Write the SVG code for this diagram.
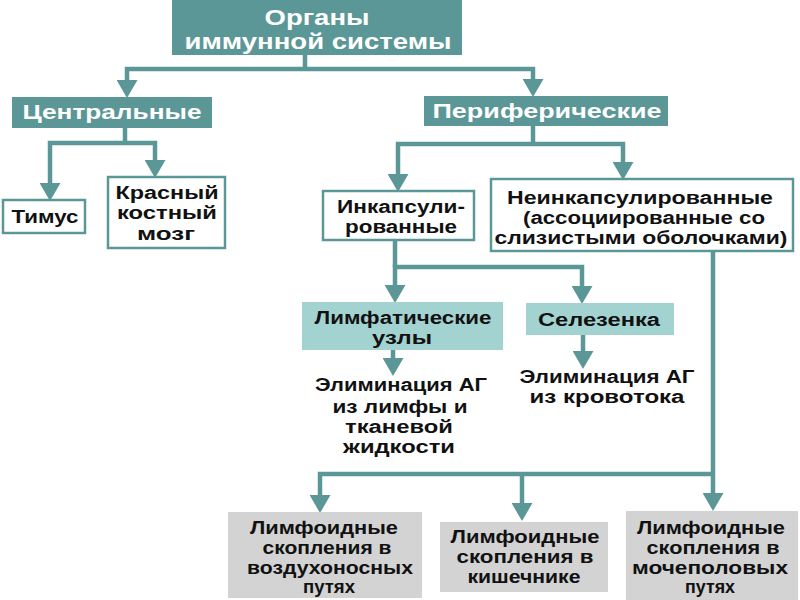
<svg xmlns="http://www.w3.org/2000/svg" width="800" height="600" viewBox="0 0 800 600">
<defs>
<marker id="ah" viewBox="0 0 18 21" refX="10" refY="10.5" markerWidth="18" markerHeight="21" markerUnits="userSpaceOnUse" orient="auto-start-reverse">
<path d="M0,0 L18,10.5 L0,21 z" fill="#5b9797"/>
</marker>
<style>
.dark{fill:#5b9797}
.white{fill:#ffffff;stroke:#5b9797;stroke-width:2.5}
.light{fill:#a3d3d1}
.gray{fill:#d3d3d3}
.conn{fill:none;stroke:#5b9797;stroke-width:4.5;stroke-linejoin:miter}
text{font-family:"Liberation Sans",Arial,sans-serif;font-weight:bold;text-anchor:middle}
.wt{fill:#ffffff;font-size:20px}
.bt{fill:#111111;font-size:18px}
</style>
</defs>
<rect width="800" height="600" fill="#ffffff"/>
<g id="connectors">
<path class="conn" d="M305,55 V69"/>
<path class="conn" d="M127,90 V69 H533 V89" marker-start="url(#ah)" marker-end="url(#ah)"/>
<path class="conn" d="M125,128 V143"/>
<path class="conn" d="M50,193 V143 H155 V170" marker-start="url(#ah)" marker-end="url(#ah)"/>
<path class="conn" d="M533,126 V144"/>
<path class="conn" d="M398,184 V144 H623 V172" marker-start="url(#ah)" marker-end="url(#ah)"/>
<path class="conn" d="M395,240 V267"/>
<path class="conn" d="M395,295 V267 H582 V296" marker-start="url(#ah)" marker-end="url(#ah)"/>
<path class="conn" d="M393,350 V368" marker-end="url(#ah)"/>
<path class="conn" d="M583,335 V361" marker-end="url(#ah)"/>
<path class="conn" d="M713,251 V503" marker-end="url(#ah)"/>
<path class="conn" d="M320,505 V474 H713" marker-start="url(#ah)"/>
<path class="conn" d="M522,474 V513" marker-end="url(#ah)"/>
</g>
<g id="root">
<rect class="dark" x="172" y="0" width="290" height="55"/>
<text class="wt" style="font-size:22px" x="317" y="25" textLength="105" lengthAdjust="spacingAndGlyphs">Органы</text>
<text class="wt" style="font-size:22px" x="318" y="49" textLength="267" lengthAdjust="spacingAndGlyphs">иммунной системы</text>
</g>
<g id="central">
<rect class="dark" x="12" y="97" width="200" height="31"/>
<text class="wt" x="112" y="119" textLength="179" lengthAdjust="spacingAndGlyphs">Центральные</text>
</g>
<g id="peripheral">
<rect class="dark" x="424" y="96" width="244" height="30"/>
<text class="wt" x="547" y="118" textLength="229" lengthAdjust="spacingAndGlyphs">Периферические</text>
</g>
<g id="thymus">
<rect class="white" x="3" y="200" width="82" height="33"/>
<text class="bt" x="45" y="223" textLength="67" lengthAdjust="spacingAndGlyphs">Тимус</text>
</g>
<g id="marrow">
<rect class="white" x="108" y="177" width="117" height="71"/>
<text class="bt" x="167" y="199" textLength="103" lengthAdjust="spacingAndGlyphs">Красный</text>
<text class="bt" x="167" y="219" textLength="100" lengthAdjust="spacingAndGlyphs">костный</text>
<text class="bt" x="166" y="240" textLength="58" lengthAdjust="spacingAndGlyphs">мозг</text>
</g>
<g id="encapsulated">
<rect class="white" x="323" y="191" width="151" height="49"/>
<text class="bt" x="401" y="213" textLength="128" lengthAdjust="spacingAndGlyphs">Инкапсули-</text>
<text class="bt" x="401" y="233" textLength="112" lengthAdjust="spacingAndGlyphs">рованные</text>
</g>
<g id="nonencapsulated">
<rect class="white" x="491" y="179" width="302" height="72"/>
<text class="bt" x="640" y="204" textLength="266" lengthAdjust="spacingAndGlyphs">Неинкапсулированные</text>
<text class="bt" x="644" y="224" textLength="242" lengthAdjust="spacingAndGlyphs">(ассоциированные со</text>
<text class="bt" x="641" y="244" textLength="293" lengthAdjust="spacingAndGlyphs">слизистыми оболочками)</text>
</g>
<g id="lymphnodes">
<rect class="light" x="302" y="302" width="201" height="48"/>
<text class="bt" x="403" y="324" textLength="177" lengthAdjust="spacingAndGlyphs">Лимфатические</text>
<text class="bt" x="402" y="344" textLength="60" lengthAdjust="spacingAndGlyphs">узлы</text>
</g>
<g id="spleen">
<rect class="light" x="526" y="303" width="148" height="32"/>
<text class="bt" x="599" y="326" textLength="122" lengthAdjust="spacingAndGlyphs">Селезенка</text>
</g>
<g id="elim-lymph">
<text class="bt" x="401" y="391" textLength="172" lengthAdjust="spacingAndGlyphs">Элиминация АГ</text>
<text class="bt" x="400" y="413" textLength="135" lengthAdjust="spacingAndGlyphs">из лимфы и</text>
<text class="bt" x="399" y="433" textLength="108" lengthAdjust="spacingAndGlyphs">тканевой</text>
<text class="bt" x="399" y="453" textLength="112" lengthAdjust="spacingAndGlyphs">жидкости</text>
</g>
<g id="elim-blood">
<text class="bt" x="607" y="383" textLength="175" lengthAdjust="spacingAndGlyphs">Элиминация АГ</text>
<text class="bt" x="607" y="403" textLength="155" lengthAdjust="spacingAndGlyphs">из кровотока</text>
</g>
<g id="airways">
<rect class="gray" x="228" y="512" width="194" height="86"/>
<text class="bt" x="324" y="534" textLength="148" lengthAdjust="spacingAndGlyphs">Лимфоидные</text>
<text class="bt" x="327" y="554" textLength="129" lengthAdjust="spacingAndGlyphs">скопления в</text>
<text class="bt" x="330" y="574" textLength="166" lengthAdjust="spacingAndGlyphs">воздухоносных</text>
<text class="bt" x="329" y="593" textLength="52" lengthAdjust="spacingAndGlyphs">путях</text>
</g>
<g id="intestine">
<rect class="gray" x="440" y="522" width="168" height="70"/>
<text class="bt" x="525" y="543" textLength="149" lengthAdjust="spacingAndGlyphs">Лимфоидные</text>
<text class="bt" x="525" y="563" textLength="137" lengthAdjust="spacingAndGlyphs">скопления в</text>
<text class="bt" x="524" y="583" textLength="113" lengthAdjust="spacingAndGlyphs">кишечнике</text>
</g>
<g id="urogenital">
<rect class="gray" x="626" y="511" width="172" height="89"/>
<text class="bt" x="711" y="534" textLength="148" lengthAdjust="spacingAndGlyphs">Лимфоидные</text>
<text class="bt" x="713" y="554" textLength="133" lengthAdjust="spacingAndGlyphs">скопления в</text>
<text class="bt" x="710" y="574" textLength="156" lengthAdjust="spacingAndGlyphs">мочеполовых</text>
<text class="bt" x="710" y="593" textLength="50" lengthAdjust="spacingAndGlyphs">путях</text>
</g>
</svg>
